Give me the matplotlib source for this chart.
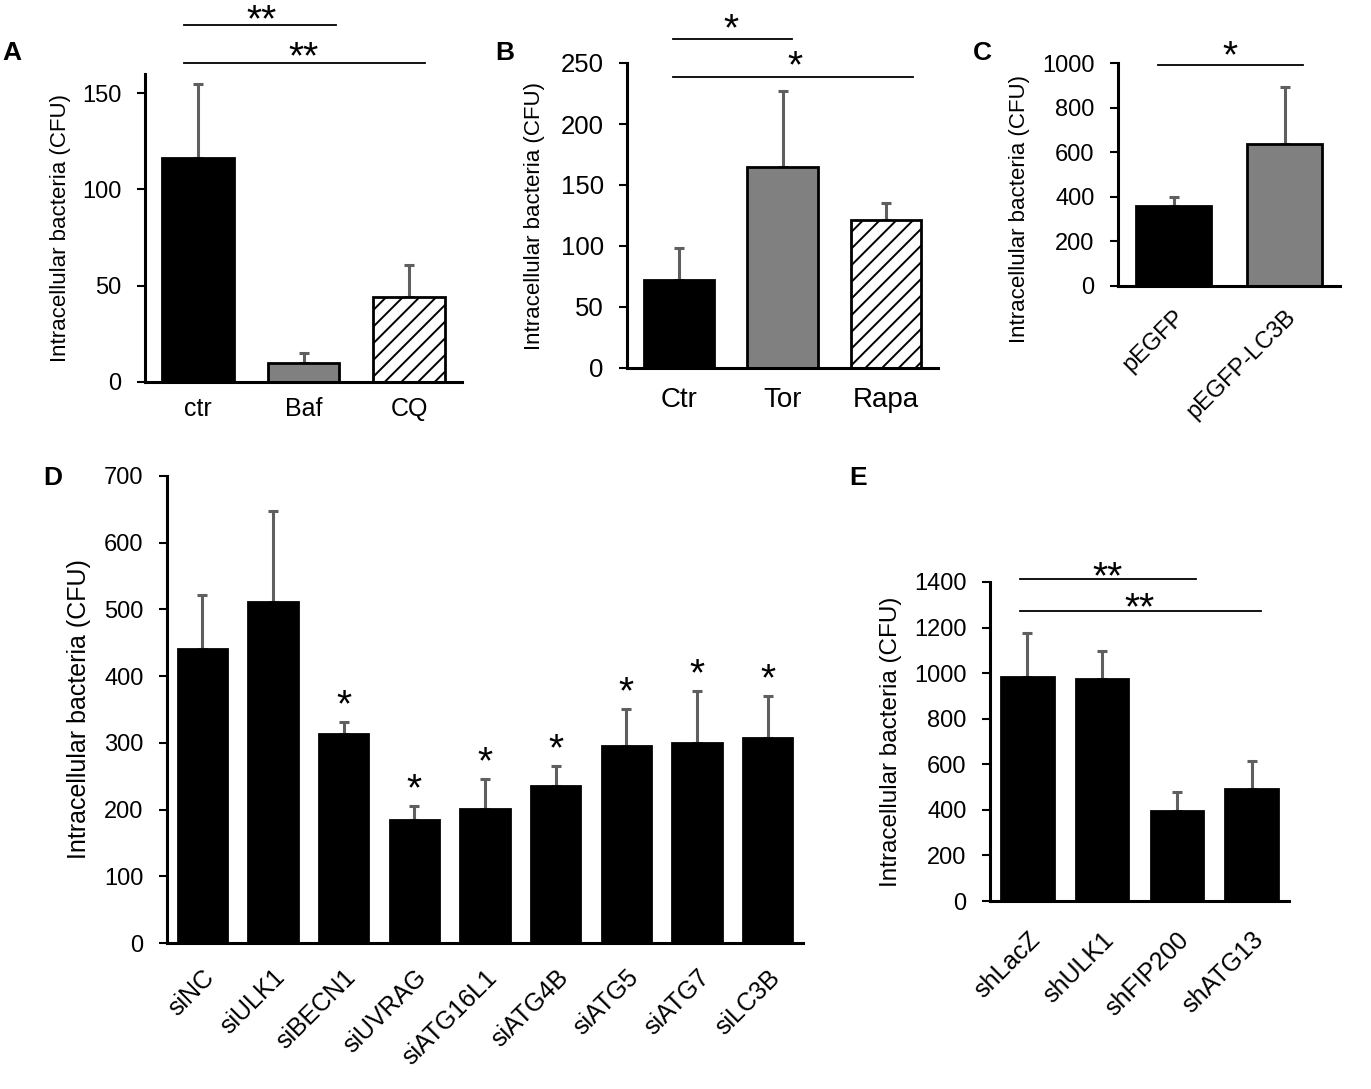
import matplotlib
matplotlib.use("Agg")
import matplotlib.pyplot as plt
from matplotlib.transforms import offset_copy

plt.rcParams['font.family'] = ['Liberation Sans', 'DejaVu Sans']
plt.rcParams['hatch.linewidth'] = 1.4

# ---- data ----
# A: lysosome inhibitors
a_labels = ['ctr', 'Baf', 'CQ']
a_means = [116.6, 9.8, 44.0]
a_errs = [38.3, 5.2, 16.6]

# B: autophagy inducers
b_labels = ['Ctr', 'Tor', 'Rapa']
b_means = [72.1, 164.8, 121.3]
b_errs = [26.3, 62.5, 14.0]

# C: LC3B overexpression
c_labels = ['pEGFP', 'pEGFP-LC3B']
c_means = [359, 637]
c_errs = [40, 256]

# D: siRNA knockdown
d_labels = ['siNC', 'siULK1', 'siBECN1', 'siUVRAG', 'siATG16L1',
            'siATG4B', 'siATG5', 'siATG7', 'siLC3B']
d_means = [441, 511, 313, 184, 201, 235, 295, 300, 307]
d_errs = [81, 137, 18, 21, 45, 30, 56, 78, 63]
d_marks = ['', '', '*', '*', '*', '*', '*', '*', '*']

# E: shRNA knockdown
e_labels = ['shLacZ', 'shULK1', 'shFIP200', 'shATG13']
e_means = [982, 974, 395, 491]
e_errs = [194, 122, 83, 123]

YLABEL = 'Intracellular bacteria (CFU)'
STAR_FS = 28
STAR_MID = 0.44  # height of the asterisk centre above the baseline, in em

W, H = 1371, 1089
fig = plt.figure(figsize=(W / 100, H / 100), dpi=100)


def make_axes(l, t, r, b):
    return fig.add_axes([l / W, 1 - b / H, (r - l) / W, (b - t) / H])


def style(ax, ymax, step, ytick_fs, label_fs, label_x, label_y=0.5):
    ax.set_ylim(0, ymax)
    ax.set_yticks(range(0, ymax + 1, step))
    for s in ['top', 'right']:
        ax.spines[s].set_visible(False)
    for s in ['left', 'bottom']:
        ax.spines[s].set_linewidth(2.2)
    ax.tick_params(axis='y', direction='out', length=5.8, width=1.5,
                   labelsize=ytick_fs, pad=11)
    ax.tick_params(axis='x', length=0)
    ax.set_ylabel(YLABEL, fontsize=label_fs)
    ax.yaxis.set_label_coords(label_x, label_y)


def bars(ax, means, errs, width, colors, hatches=None):
    x = list(range(len(means)))
    ax.errorbar(x, means, yerr=[[0] * len(errs), errs], fmt='none',
                ecolor='#5f5f5f', elinewidth=2.2, capsize=3.8, capthick=2.2,
                zorder=1)
    bs = ax.bar(x, means, width=width, color=colors, edgecolor='black',
                linewidth=2.0, zorder=2)
    if hatches:
        for b, h in zip(bs, hatches):
            if h:
                b.set_hatch(h)
    ax.set_xlim(-0.5, len(means) - 0.5)


def star(ax, x, y, text, lift=0.0):
    # y is where the centre of the asterisk should sit (plus lift in points)
    tr = offset_copy(ax.transData, fig=fig, x=0,
                     y=lift - STAR_MID * STAR_FS, units='points')
    ax.text(x, y, text, transform=tr, ha='center', va='baseline',
            fontsize=STAR_FS, clip_on=False)


def bracket(ax, x0, x1, y, xs, ys, text):
    ax.plot([x0, x1], [y, y], color='black', lw=1.3, clip_on=False)
    star(ax, xs, ys, text)


# ---- A ----
axA = make_axes(145, 74, 462, 382)
bars(axA, a_means, a_errs, 0.68, ['black', '#808080', 'white'],
     [None, None, '//'])
style(axA, 160, 50, 17, 16, -0.233)
axA.set_yticks([0, 50, 100, 150])
axA.set_xticks(range(3), a_labels, fontsize=18)
axA.tick_params(axis='x', pad=11)
bracket(axA, -0.13, 1.31, 185.5, 0.6, 191, '**')
bracket(axA, -0.13, 2.15, 165.8, 1.0, 172, '**')

# ---- B ----
axB = make_axes(627, 63, 938, 368)
bars(axB, b_means, b_errs, 0.68, ['black', '#808080', 'white'],
     [None, None, '//'])
style(axB, 250, 50, 18.5, 16, -0.264)
axB.set_xticks(range(3), b_labels, fontsize=20)
axB.tick_params(axis='x', pad=13.5)
bracket(axB, -0.06, 1.09, 270, 0.5, 283, '*')
bracket(axB, -0.06, 2.26, 238.5, 1.12, 252, '*')

# ---- C ----
axC = make_axes(1118, 63, 1340, 286)
bars(axC, c_means, c_errs, 0.68, ['black', '#808080'])
style(axC, 1000, 200, 17, 16, -0.396, 0.345)
axC.set_xticks(range(2), c_labels, fontsize=17, rotation=45,
              ha='right', va='top', rotation_mode='anchor')
axC.tick_params(axis='x', pad=14)
bracket(axC, -0.14, 1.17, 991, 0.51, 1058, '*')

# ---- D ----
axD = make_axes(167, 476, 803, 943)
bars(axD, d_means, d_errs, 0.7, 'black')
style(axD, 700, 100, 17, 18, -0.119)
axD.set_xticks(range(len(d_labels)), d_labels, fontsize=18, rotation=45,
              ha='right', va='top', rotation_mode='anchor')
axD.tick_params(axis='x', pad=16)
for i, m in enumerate(d_marks):
    if m:
        star(axD, i, d_means[i] + d_errs[i], m, lift=16.5)

# ---- E ----
axE = make_axes(990, 582, 1289, 901)
bars(axE, e_means, e_errs, 0.7, 'black')
style(axE, 1400, 200, 17, 17.5, -0.294)
axE.set_xticks(range(len(e_labels)), e_labels, fontsize=18, rotation=45,
              ha='right', va='top', rotation_mode='anchor')
axE.tick_params(axis='x', pad=19)
bracket(axE, -0.1, 2.25, 1412, 1.07, 1447, '**')
bracket(axE, -0.1, 3.12, 1272, 1.5, 1311, '**')

# panel letters
for letter, px, py in [('A', 2, 60), ('B', 495, 60), ('C', 973, 60),
                       ('D', 43, 485), ('E', 849, 485)]:
    fig.text(px / W, 1 - py / H, letter, fontsize=19, fontweight='bold',
             ha='left', va='baseline')

fig.savefig('out.png', dpi=100)
